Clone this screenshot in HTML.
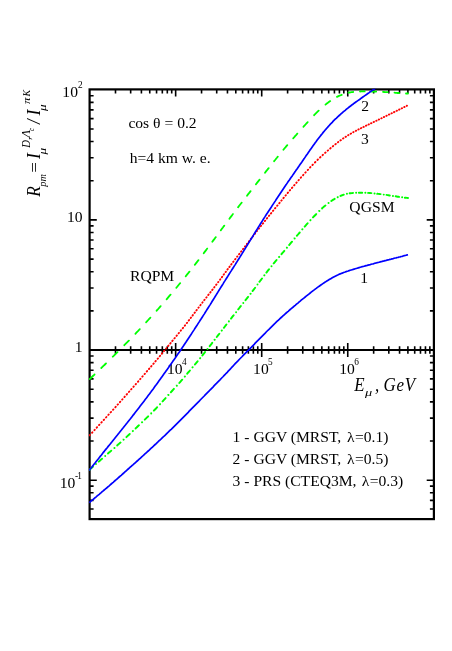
<!DOCTYPE html>
<html><head><meta charset="utf-8"><title>R_pm</title>
<style>html,body{margin:0;padding:0;background:#fff;}body{width:452px;height:651px;overflow:hidden;font-family:"Liberation Serif",serif;}svg{display:block;will-change:transform;}text{font-family:"Liberation Serif",serif;fill:#000;}</style>
</head><body>
<svg width="452" height="651" viewBox="0 0 452 651">
<rect x="0" y="0" width="452" height="651" fill="#fff"/>
<defs><clipPath id="cp"><rect x="89.00" y="88.70" width="344.90" height="430.40"/></clipPath></defs>
<g stroke="#000" fill="none">
<rect x="89.60" y="89.40" width="344.30" height="429.70" stroke-width="2.2"/>
<line x1="89.60" y1="350.05" x2="433.90" y2="350.05" stroke-width="2.1"/>
<path d="M89.60 219.90h7.20M433.90 219.90h-7.20M89.60 180.72h4.00M433.90 180.72h-4.00M89.60 157.80h4.00M433.90 157.80h-4.00M89.60 141.54h4.00M433.90 141.54h-4.00M89.60 128.93h4.00M433.90 128.93h-4.00M89.60 118.62h4.00M433.90 118.62h-4.00M89.60 109.91h4.00M433.90 109.91h-4.00M89.60 102.36h4.00M433.90 102.36h-4.00M89.60 95.71h4.00M433.90 95.71h-4.00M89.60 350.05h7.20M433.90 350.05h-7.20M89.60 310.87h4.00M433.90 310.87h-4.00M89.60 287.95h4.00M433.90 287.95h-4.00M89.60 271.69h4.00M433.90 271.69h-4.00M89.60 259.08h4.00M433.90 259.08h-4.00M89.60 248.77h4.00M433.90 248.77h-4.00M89.60 240.06h4.00M433.90 240.06h-4.00M89.60 232.51h4.00M433.90 232.51h-4.00M89.60 225.86h4.00M433.90 225.86h-4.00M89.60 480.20h7.20M433.90 480.20h-7.20M89.60 441.02h4.00M433.90 441.02h-4.00M89.60 418.10h4.00M433.90 418.10h-4.00M89.60 401.84h4.00M433.90 401.84h-4.00M89.60 389.23h4.00M433.90 389.23h-4.00M89.60 378.92h4.00M433.90 378.92h-4.00M89.60 370.21h4.00M433.90 370.21h-4.00M89.60 362.66h4.00M433.90 362.66h-4.00M89.60 356.01h4.00M433.90 356.01h-4.00M89.60 509.07h4.00M433.90 509.07h-4.00M89.60 500.36h4.00M433.90 500.36h-4.00M89.60 492.81h4.00M433.90 492.81h-4.00M89.60 486.16h4.00M433.90 486.16h-4.00M115.50 89.40v4.00M115.50 346.25v7.60M130.66 89.40v4.00M130.66 346.25v7.60M141.41 89.40v4.00M141.41 346.25v7.60M149.75 89.40v4.00M149.75 346.25v7.60M156.56 89.40v4.00M156.56 346.25v7.60M162.32 89.40v4.00M162.32 346.25v7.60M167.31 89.40v4.00M167.31 346.25v7.60M171.71 89.40v4.00M171.71 346.25v7.60M175.65 89.40v7.20M175.65 343.05v14.00M201.55 89.40v4.00M201.55 346.25v7.60M216.71 89.40v4.00M216.71 346.25v7.60M227.46 89.40v4.00M227.46 346.25v7.60M235.80 89.40v4.00M235.80 346.25v7.60M242.61 89.40v4.00M242.61 346.25v7.60M248.37 89.40v4.00M248.37 346.25v7.60M253.36 89.40v4.00M253.36 346.25v7.60M257.76 89.40v4.00M257.76 346.25v7.60M261.70 89.40v7.20M261.70 343.05v14.00M287.60 89.40v4.00M287.60 346.25v7.60M302.76 89.40v4.00M302.76 346.25v7.60M313.51 89.40v4.00M313.51 346.25v7.60M321.85 89.40v4.00M321.85 346.25v7.60M328.66 89.40v4.00M328.66 346.25v7.60M334.42 89.40v4.00M334.42 346.25v7.60M339.41 89.40v4.00M339.41 346.25v7.60M343.81 89.40v4.00M343.81 346.25v7.60M347.75 89.40v7.20M347.75 343.05v14.00M373.65 89.40v4.00M373.65 346.25v7.60M388.81 89.40v4.00M388.81 346.25v7.60M399.56 89.40v4.00M399.56 346.25v7.60M407.90 89.40v4.00M407.90 346.25v7.60M414.71 89.40v4.00M414.71 346.25v7.60M420.47 89.40v4.00M420.47 346.25v7.60M425.46 89.40v4.00M425.46 346.25v7.60M429.86 89.40v4.00M429.86 346.25v7.60" stroke-width="1.6"/>
</g>
<text x="82.60" y="97.10" font-size="15.6" text-anchor="end">10<tspan font-size="9.3" dy="-8.9">2</tspan></text>
<text x="82.60" y="222.10" font-size="15.6" text-anchor="end">10</text>
<text x="82.60" y="352.10" font-size="15.6" text-anchor="end">1</text>
<text x="81.30" y="487.70" font-size="15.6" text-anchor="end">10<tspan font-size="9.3" dy="-8.9" letter-spacing="-0.7" dx="-0.3">-1</tspan></text>
<text x="167.05" y="373.70" font-size="15.6" text-anchor="start">10<tspan font-size="9.3" dy="-8.9" dx="-0.6">4</tspan></text>
<text x="253.10" y="373.70" font-size="15.6" text-anchor="start">10<tspan font-size="9.3" dy="-8.9" dx="-0.6">5</tspan></text>
<text x="339.15" y="373.70" font-size="15.6" text-anchor="start">10<tspan font-size="9.3" dy="-8.9" dx="-0.6">6</tspan></text>
<text x="128.40" y="127.90" font-size="15.60" >cos θ = 0.2</text>
<text x="129.70" y="162.70" font-size="15.60" >h=4 km w. e.</text>
<text x="130.00" y="281.40" font-size="15.60" >RQPM</text>
<text x="349.30" y="211.60" font-size="15.60" letter-spacing="0.1">QGSM</text>
<text x="361.20" y="110.80" font-size="15.60" >2</text>
<text x="361.10" y="143.50" font-size="15.60" >3</text>
<text x="360.30" y="283.20" font-size="15.60" >1</text>
<text x="232.60" y="442.10" font-size="15.60" >1 - GGV (MRST, <tspan dx="2">λ</tspan><tspan dx="0.3">=0.1)</tspan></text>
<text x="232.60" y="463.90" font-size="15.60" >2 - GGV (MRST, <tspan dx="2">λ</tspan><tspan dx="0.3">=0.5)</tspan></text>
<text x="232.60" y="485.60" font-size="15.60" >3 - PRS (CTEQ3M, <tspan dx="1.3">λ</tspan><tspan dx="0.5">=0.3)</tspan></text>
<text transform="translate(354.30,390.90) scale(0.950,1)" font-size="17.80" font-style="italic" >E</text>
<text transform="translate(365.00,396.20) scale(1.300,1)" font-size="11.00" font-style="italic" >μ</text>
<text transform="translate(374.90,390.90) scale(0.950,1)" font-size="17.80" font-style="italic" >,</text>
<text transform="translate(383.60,390.90) scale(0.950,1)" font-size="17.80" font-style="italic" letter-spacing="0.7">GeV</text>
<g transform="rotate(-90)" font-style="italic">
<text transform="translate(-196.70,39.90) scale(0.890,1)" font-size="19.50">R</text>
<text transform="translate(-186.70,46.20) scale(0.917,1)" font-size="11.20">pm</text>
<text transform="translate(-174.00,39.70) scale(1.184,1)" font-size="16.00">=</text>
<text transform="translate(-159.00,39.90) scale(0.890,1)" font-size="19.50">I</text>
<text transform="translate(-154.40,46.10) scale(1.175,1)" font-size="11.20">μ</text>
<text transform="translate(-147.70,29.90) scale(0.890,1)" font-size="12.00">D,</text>
<text transform="translate(-137.70,29.90) scale(1.139,1)" font-size="11.60">Λ</text>
<text transform="translate(-131.10,33.50) scale(0.890,1)" font-size="7.50">c</text>
<text transform="translate(-123.90,39.60) scale(0.890,1)" font-size="18.72">/</text>
<text transform="translate(-115.40,39.90) scale(0.890,1)" font-size="19.50">I</text>
<text transform="translate(-110.90,46.10) scale(1.175,1)" font-size="11.20">μ</text>
<text transform="translate(-103.90,29.70) scale(1.157,1)" font-size="11.20">π</text>
<text transform="translate(-96.60,29.70) scale(0.890,1)" font-size="11.20">K</text>
</g>
<g fill="none" clip-path="url(#cp)">
<path d="M89.8 379.0L89.9 378.9L90.9 378.0L91.9 377.0L92.9 376.0L93.9 375.1L94.5 374.5M101.3 368.0L101.4 367.9L102.4 366.9L103.4 365.9L104.4 365.0L105.4 364.0L106.0 363.4M112.8 356.7L112.9 356.6L113.9 355.7L114.9 354.7L115.9 353.7L116.9 352.7L117.5 352.1M124.3 345.3L124.3 345.2L125.3 344.2L126.3 343.2L127.3 342.2L128.3 341.1L128.9 340.6M135.4 333.8L135.4 333.8L136.4 332.7L137.4 331.6L138.4 330.6L139.4 329.5L139.8 329.1M146.1 322.3L146.2 322.2L147.2 321.1L148.2 320.0L149.2 318.9L150.2 317.8L150.4 317.6M156.6 310.8L156.6 310.7L157.6 309.6L158.6 308.5L159.6 307.3L160.6 306.2L160.7 306.1M166.6 299.3L166.6 299.3L167.6 298.1L168.6 296.9L169.6 295.7L170.6 294.6L170.6 294.6M176.3 287.8L176.4 287.7L177.4 286.5L178.4 285.2L179.4 284.0L180.2 283.1M185.7 276.3L185.8 276.2L186.8 274.9L187.8 273.7L188.8 272.4L189.5 271.6M194.8 264.8L194.9 264.7L195.9 263.4L196.9 262.1L197.9 260.8L198.5 260.1M203.7 253.3L203.7 253.2L204.7 251.9L205.7 250.6L206.7 249.3L207.2 248.6M212.3 241.8L212.3 241.8L213.3 240.4L214.3 239.1L215.3 237.7L215.8 237.1M220.8 230.3L220.9 230.2L221.9 228.8L222.9 227.5L223.9 226.1L224.3 225.6M229.4 218.8L229.4 218.7L230.4 217.4L231.4 216.1L232.4 214.8L232.9 214.1M238.1 207.3L238.2 207.1L239.2 205.8L240.2 204.5L241.2 203.2L241.7 202.6M247.0 195.8L247.0 195.7L248.0 194.4L249.0 193.2L250.0 191.9L250.6 191.1M255.9 184.3L256.0 184.2L257.0 182.9L258.0 181.6L259.0 180.4L259.6 179.6M265.0 172.8L265.0 172.7L266.0 171.4L267.0 170.2L268.0 168.9L268.7 168.1M274.1 161.3L274.1 161.2L275.1 160.0L276.1 158.7L277.1 157.5L277.8 156.6M283.4 149.8L283.4 149.8L284.4 148.5L285.4 147.4L286.4 146.2L287.3 145.1M293.2 138.3L293.3 138.2L294.3 137.1L295.3 135.9L296.3 134.8L297.3 133.6L297.4 133.6M303.4 126.8L303.5 126.7L304.5 125.6L305.5 124.5L306.5 123.4L307.5 122.3L307.7 122.1M314.1 115.3L314.1 115.2L315.1 114.2L316.1 113.2L317.1 112.2L318.1 111.2L318.7 110.6M325.5 104.6L325.5 104.6L326.5 103.8L327.5 103.1L328.5 102.3L329.5 101.6L330.2 101.1M337.0 96.9L337.0 96.9L338.0 96.4L339.0 95.9L340.0 95.5L341.0 95.1L341.7 94.8M348.5 92.7L348.5 92.7L349.5 92.5L350.5 92.4L351.5 92.2L352.5 92.1L353.2 92.0M360.0 91.5L360.0 91.5L361.0 91.4L362.0 91.4L363.0 91.4L364.0 91.4L364.7 91.4M371.5 91.5L371.5 91.5L372.5 91.5L373.5 91.5L374.5 91.6L375.5 91.6L376.2 91.6M383.0 91.9L383.0 91.9L384.0 92.0L385.0 92.1L386.0 92.1L387.0 92.2L387.7 92.2M394.5 92.7L394.5 92.7L395.5 92.8L396.5 92.9L397.5 93.0L398.5 93.0L399.2 93.1M406.0 93.5L406.0 93.5L407.0 93.5L408.0 93.5L408.0 93.5" stroke="#00ff00" stroke-width="1.8" stroke-linecap="round"/>
<path d="M89.5 469.8L89.6 469.7L90.6 468.8L91.6 467.9L92.6 467.1L92.9 466.8M96.0 464.1L96.0 464.1L96.0 464.0M98.8 461.6L98.8 461.6L99.8 460.7L100.8 459.8L101.8 458.9L102.1 458.7M105.2 456.0L105.2 456.0L105.2 455.9M108.0 453.6L108.0 453.5L109.0 452.6L110.0 451.8L111.0 450.9L111.2 450.7M114.4 447.9L114.4 447.9L114.5 447.9M117.2 445.5L117.2 445.4L118.2 444.5L119.2 443.6L120.2 442.7L120.5 442.5M123.6 439.7L123.6 439.6L123.7 439.6M126.4 437.1L126.4 437.1L127.4 436.1L128.4 435.2L129.4 434.3L129.7 434.0M132.8 431.1L132.8 431.1L132.9 431.0M135.6 428.5L135.6 428.4L136.6 427.5L137.6 426.5L138.6 425.5L138.9 425.3M142.0 422.3L142.0 422.3L142.1 422.2M144.8 419.6L144.8 419.6L145.8 418.6L146.8 417.6L147.8 416.7L148.1 416.4M151.2 413.4L151.2 413.3L151.2 413.3M153.9 410.6L154.0 410.5L155.0 409.5L156.0 408.5L157.0 407.4L157.1 407.3M160.0 404.2L160.1 404.1L160.1 404.1M162.6 401.4L162.7 401.3L163.7 400.2L164.7 399.1L165.6 398.1M168.4 395.0L168.4 394.9L168.5 394.9M170.9 392.2L171.0 392.1L172.0 391.0L173.0 389.9L173.9 388.9M176.8 385.8L176.8 385.7L176.9 385.7M179.3 383.0L179.3 383.0L180.3 381.8L181.3 380.7L182.2 379.7M184.8 376.6L184.9 376.5M187.2 373.8L187.2 373.7L188.2 372.5L189.2 371.4L189.9 370.5M192.5 367.4L192.6 367.3L192.6 367.3M194.9 364.6L194.9 364.5L195.9 363.3L196.9 362.1L197.6 361.3M200.1 358.2L200.2 358.1L200.2 358.1M202.4 355.4L202.4 355.4L203.4 354.1L204.4 352.9L205.0 352.1M207.5 349.0L207.5 348.9L207.5 348.9M209.7 346.2L209.7 346.1L210.7 344.8L211.7 343.6L212.2 342.9M214.6 339.8L214.7 339.7L214.7 339.7M216.8 337.0L216.8 337.0L217.8 335.7L218.8 334.4L219.3 333.7M221.7 330.6L221.8 330.5L221.8 330.5M223.9 327.8L223.9 327.8L224.9 326.5L225.9 325.2L226.4 324.5M228.9 321.4L228.9 321.3L228.9 321.3M231.0 318.6L231.1 318.5L232.1 317.2L233.1 315.9L233.6 315.3M236.1 312.2L236.1 312.1L236.1 312.1M238.2 309.4L238.3 309.3L239.3 308.0L240.3 306.7L240.8 306.1M243.3 303.0L243.3 302.9L243.3 302.9M245.5 300.2L245.5 300.1L246.5 298.9L247.5 297.6L248.1 296.9M250.5 293.8L250.5 293.8L250.6 293.7M252.6 291.0L252.7 290.9L253.7 289.6L254.7 288.3L255.1 287.7M257.5 284.6L257.5 284.5L257.5 284.5M259.5 281.8L259.6 281.7L260.6 280.3L261.6 279.0L262.0 278.5M264.3 275.4L264.3 275.4L264.4 275.3M266.4 272.6L266.5 272.5L267.5 271.2L268.5 269.9L269.0 269.3M271.5 266.2L271.5 266.1L271.5 266.1M273.7 263.4L273.8 263.3L274.8 262.1L275.8 260.9L276.5 260.1M279.1 257.0L279.1 257.0L279.2 256.9M281.5 254.2L281.5 254.1L282.5 252.9L283.5 251.8L284.3 250.9M286.9 247.8L286.9 247.7L287.0 247.7M289.2 245.0L289.3 244.9L290.3 243.7L291.3 242.5L292.0 241.7M294.6 238.6L294.6 238.5L294.7 238.5M296.9 235.8L297.0 235.7L298.0 234.5L299.0 233.3L299.7 232.5M302.3 229.4L302.3 229.4L302.4 229.3M304.7 226.6L304.8 226.5L305.8 225.3L306.8 224.2L307.6 223.3M310.4 220.2L310.5 220.1L310.5 220.1M313.0 217.4L313.1 217.3L314.1 216.2L315.1 215.2L316.1 214.2L316.2 214.1M319.3 211.0L319.3 210.9L319.4 210.9M322.1 208.4L322.1 208.3L323.1 207.4L324.1 206.5L325.1 205.7L325.4 205.5M328.5 203.0L328.5 203.0L328.6 203.0M331.3 201.0L331.3 201.0L332.3 200.3L333.3 199.7L334.3 199.1L334.6 198.9M337.7 197.2L337.7 197.2L337.8 197.1M340.5 195.9L340.5 195.9L341.5 195.5L342.5 195.1L343.5 194.8L343.8 194.7M346.9 193.8L346.9 193.8L347.0 193.8M349.7 193.3L349.7 193.3L350.7 193.2L351.7 193.1L352.7 193.0L353.0 192.9M356.1 192.7L356.1 192.7L356.2 192.7M358.9 192.7L358.9 192.7L359.9 192.7L360.9 192.7L361.9 192.7L362.2 192.7M365.3 192.8L365.3 192.8L365.4 192.8M368.1 192.9L368.1 192.9L369.1 193.0L370.1 193.0L371.1 193.1L371.4 193.1M374.5 193.4L374.5 193.4L374.6 193.4M377.3 193.7L377.3 193.8L378.3 193.9L379.3 194.0L380.3 194.1L380.6 194.1M383.7 194.6L383.7 194.6L383.8 194.6M386.5 194.9L386.5 194.9L387.5 195.1L388.5 195.2L389.5 195.4L389.8 195.4M392.9 195.9L392.9 195.9L393.0 195.9M395.7 196.3L395.7 196.3L396.7 196.5L397.7 196.7L398.7 196.8L399.0 196.9M402.1 197.3L402.1 197.3L402.2 197.3M404.9 197.7L404.9 197.7L405.9 197.8L406.9 197.9L407.9 198.0L408.0 198.0" stroke="#00ff00" stroke-width="1.95" stroke-linecap="round"/>
<path d="M89.5 435.3L89.5 435.3L89.9 434.9M92.0 432.8L92.0 432.8L92.4 432.3M94.4 430.2L94.4 430.2L94.8 429.8M96.7 427.7L96.7 427.7L97.1 427.2M99.0 425.1L99.1 425.0L99.4 424.7M101.3 422.6L101.4 422.5L101.8 422.1M103.7 420.0L103.7 420.0L104.1 419.6M106.0 417.5L106.0 417.5L106.4 417.0M108.3 414.9L108.4 414.9L108.7 414.5M110.6 412.4L110.7 412.3L111.1 411.9M113.0 409.8L113.0 409.8L113.4 409.4M115.3 407.3L115.3 407.3L115.7 406.8M117.6 404.7L117.6 404.7L118.0 404.3M119.9 402.2L119.9 402.1L120.3 401.7M122.1 399.6L122.2 399.6L122.5 399.2M124.4 397.1L124.4 397.1L124.8 396.6M126.6 394.5L126.7 394.5L127.0 394.1M128.9 392.0L128.9 392.0L129.3 391.5M131.1 389.4L131.2 389.4L131.5 389.0M133.4 386.9L133.4 386.9L133.8 386.4M135.6 384.3L135.7 384.3L136.0 383.9M137.9 381.8L137.9 381.8L138.3 381.3M140.1 379.2L140.2 379.1L140.5 378.8M142.3 376.7L142.4 376.6L142.7 376.2M144.5 374.1L144.6 374.1L144.9 373.7M146.7 371.6L146.8 371.5L147.1 371.1M148.9 369.0L149.0 369.0L149.3 368.6M151.1 366.5L151.2 366.4L151.5 366.0M153.3 363.9L153.3 363.9L153.7 363.5M155.4 361.4L155.5 361.3L155.8 360.9M157.6 358.8L157.6 358.8L158.0 358.4M159.7 356.3L159.8 356.2L160.1 355.8M161.8 353.7L161.9 353.7L162.2 353.3M163.9 351.2L164.0 351.1L164.3 350.7M166.0 348.6L166.1 348.6L166.4 348.2M168.1 346.1L168.2 346.0L168.5 345.6M170.2 343.5L170.3 343.5L170.6 343.1M172.3 341.0L172.4 340.9L172.7 340.5M174.4 338.4L174.5 338.4L174.8 338.0M176.5 335.9L176.6 335.8L176.9 335.4M178.6 333.3L178.7 333.2L179.0 332.9M180.7 330.8L180.7 330.8L181.0 330.3M182.7 328.2L182.8 328.2L183.1 327.8M184.8 325.7L184.8 325.7L185.1 325.2M186.8 323.1L186.8 323.1L187.1 322.7M188.7 320.6L188.8 320.5L189.1 320.1M190.7 318.0L190.7 318.0L191.0 317.6M192.6 315.5L192.7 315.4L192.9 315.0M194.5 312.9L194.6 312.8L194.9 312.5M196.4 310.4L196.5 310.3L196.8 309.9M198.4 307.8L198.4 307.8L198.7 307.4M200.3 305.3L200.4 305.2L200.6 304.8M202.3 302.7L202.3 302.7L202.6 302.3M204.2 300.2L204.3 300.1L204.6 299.7M206.2 297.6L206.3 297.6L206.6 297.2M208.2 295.1L208.3 295.0L208.6 294.6M210.2 292.5L210.3 292.5L210.6 292.1M212.2 290.0L212.3 289.9L212.6 289.5M214.2 287.4L214.2 287.4L214.5 287.0M216.1 284.9L216.2 284.8L216.5 284.4M218.1 282.3L218.1 282.3L218.4 281.9M220.0 279.8L220.0 279.7L220.3 279.3M221.8 277.2L221.9 277.2L222.2 276.8M223.7 274.7L223.8 274.6L224.0 274.2M225.6 272.1L225.6 272.1L225.9 271.7M227.4 269.6L227.5 269.5L227.8 269.1M229.3 267.0L229.4 267.0L229.7 266.6M231.2 264.5L231.3 264.4L231.6 264.0M233.2 261.9L233.2 261.9L233.5 261.5M235.1 259.4L235.2 259.3L235.5 258.9M237.1 256.8L237.1 256.8L237.4 256.4M239.0 254.3L239.1 254.2L239.4 253.8M241.0 251.7L241.0 251.7L241.3 251.3M242.9 249.2L243.0 249.1L243.3 248.7M244.9 246.6L245.0 246.5L245.3 246.2M246.9 244.1L246.9 244.1L247.2 243.6M248.8 241.5L248.9 241.5L249.2 241.1M250.8 239.0L250.9 238.9L251.2 238.5M252.8 236.4L252.8 236.4L253.1 236.0M254.8 233.9L254.8 233.9L255.1 233.4M256.8 231.3L256.8 231.3L257.1 230.9M258.8 228.8L258.8 228.8L259.1 228.3M260.8 226.2L260.8 226.2L261.1 225.8M262.8 223.7L262.8 223.7L263.2 223.2M264.8 221.1L264.9 221.0L265.2 220.7M266.8 218.6L266.9 218.5L267.2 218.1M268.9 216.0L268.9 216.0L269.2 215.6M270.9 213.5L271.0 213.4L271.3 213.0M273.0 210.9L273.0 210.9L273.3 210.5M275.0 208.4L275.1 208.3L275.4 207.9M277.1 205.8L277.2 205.7L277.5 205.4M279.2 203.3L279.2 203.3L279.6 202.8M281.3 200.7L281.3 200.7L281.7 200.3M283.4 198.2L283.4 198.2L283.8 197.7M285.5 195.6L285.5 195.6L285.9 195.2M287.6 193.1L287.7 193.0L288.0 192.6M289.8 190.5L289.8 190.5L290.1 190.1M291.9 188.0L292.0 187.9L292.3 187.5M294.1 185.4L294.1 185.4L294.5 185.0M296.3 182.9L296.3 182.9L296.7 182.4M298.5 180.3L298.6 180.2L298.9 179.9M300.7 177.8L300.8 177.7L301.1 177.3M303.0 175.2L303.1 175.2L303.4 174.8M305.3 172.7L305.4 172.6L305.7 172.2M307.7 170.1L307.7 170.1L308.1 169.7M310.0 167.6L310.1 167.5L310.4 167.1M312.4 165.0L312.5 165.0L312.9 164.6M314.9 162.5L315.0 162.4L315.4 162.0M317.5 160.0L317.5 159.9L317.9 159.5M320.0 157.5L320.1 157.4L320.5 157.1M322.6 155.2L322.6 155.1L323.0 154.8M325.1 152.9L325.2 152.8L325.6 152.5M327.7 150.7L327.7 150.7L328.1 150.3M330.2 148.5L330.3 148.4L330.7 148.1M332.8 146.4L332.8 146.4L333.2 146.0M335.3 144.3L335.4 144.2L335.8 143.9M337.9 142.3L337.9 142.3L338.3 141.9M340.4 140.4L340.5 140.3L340.9 140.1M343.0 138.6L343.0 138.5L343.4 138.3M345.5 136.9L345.6 136.8L346.0 136.6M348.1 135.3L348.1 135.2L348.5 135.0M350.6 133.7L350.7 133.7L351.1 133.5M353.2 132.3L353.2 132.3L353.6 132.0M355.7 130.9L355.8 130.9L356.2 130.7M358.3 129.6L358.3 129.5L358.7 129.3M360.8 128.3L360.9 128.2L361.3 128.0M363.4 127.0L363.4 127.0L363.8 126.8M365.9 125.7L366.0 125.7L366.4 125.5M368.5 124.5L368.5 124.5L368.9 124.3M371.0 123.3L371.1 123.2L371.5 123.1M373.6 122.0L373.6 122.0L374.0 121.8M376.1 120.8L376.2 120.8L376.6 120.6M378.7 119.6L378.7 119.6L379.1 119.4M381.2 118.3L381.3 118.3L381.7 118.1M383.8 117.1L383.8 117.1L384.2 116.9M386.3 115.9L386.4 115.8L386.8 115.7M388.9 114.6L388.9 114.6L389.3 114.4M391.4 113.4L391.5 113.4L391.9 113.2M394.0 112.2L394.0 112.1L394.4 111.9M396.5 110.9L396.6 110.9L397.0 110.7M399.1 109.7L399.1 109.6L399.5 109.4M401.6 108.4L401.7 108.4L402.1 108.2M404.2 107.1L404.2 107.1L404.6 106.9M406.7 105.9L406.8 105.8L407.0 105.7" stroke="#ff0000" stroke-width="1.85" stroke-linecap="round"/>
<path d="M89.2 502.6L90.2 501.8L91.2 500.9L92.2 500.1L93.2 499.3L94.2 498.5L95.2 497.6L96.2 496.8L97.2 495.9L98.2 495.1L99.2 494.3L100.2 493.4L101.2 492.6L102.2 491.7L103.2 490.9L104.2 490.0L105.2 489.2L106.2 488.3L107.2 487.5L108.2 486.6L109.2 485.8L110.2 484.9L111.2 484.0L112.2 483.1L113.2 482.3L114.2 481.4L115.2 480.5L116.2 479.7L117.2 478.8L118.2 477.9L119.2 477.0L120.2 476.1L121.2 475.3L122.2 474.4L123.2 473.5L124.2 472.6L125.2 471.7L126.2 470.8L127.2 469.9L128.2 469.0L129.2 468.1L130.2 467.2L131.2 466.3L132.2 465.4L133.2 464.6L134.2 463.7L135.2 462.8L136.2 461.9L137.2 461.0L138.2 460.1L139.2 459.2L140.2 458.3L141.2 457.4L142.2 456.5L143.2 455.5L144.2 454.6L145.2 453.7L146.2 452.8L147.2 451.9L148.2 451.0L149.2 450.1L150.2 449.1L151.2 448.2L152.2 447.3L153.2 446.4L154.2 445.4L155.2 444.5L156.2 443.6L157.2 442.6L158.2 441.7L159.2 440.7L160.2 439.8L161.2 438.9L162.2 437.9L163.2 437.0L164.2 436.0L165.2 435.1L166.2 434.1L167.2 433.1L168.2 432.2L169.2 431.2L170.2 430.2L171.2 429.3L172.2 428.3L173.2 427.3L174.2 426.3L175.2 425.3L176.2 424.3L177.2 423.3L178.2 422.3L179.2 421.3L180.2 420.3L181.2 419.3L182.2 418.3L183.2 417.3L184.2 416.3L185.2 415.3L186.2 414.3L187.2 413.3L188.2 412.3L189.2 411.2L190.2 410.2L191.2 409.2L192.2 408.2L193.2 407.2L194.2 406.2L195.2 405.1L196.2 404.1L197.2 403.1L198.2 402.1L199.2 401.1L200.2 400.0L201.2 399.0L202.2 398.0L203.2 397.0L204.2 396.0L205.2 394.9L206.2 393.9L207.2 392.9L208.2 391.9L209.2 390.9L210.2 389.8L211.2 388.8L212.2 387.8L213.2 386.8L214.2 385.7L215.2 384.7L216.2 383.7L217.2 382.6L218.2 381.6L219.2 380.6L220.2 379.6L221.2 378.5L222.2 377.5L223.2 376.5L224.2 375.4L225.2 374.4L226.2 373.3L227.2 372.3L228.2 371.2L229.2 370.2L230.2 369.1L231.2 368.0L232.2 366.9L233.2 365.9L234.2 364.8L235.2 363.7L236.2 362.7L237.2 361.6L238.2 360.6L239.2 359.5L240.2 358.5L241.2 357.5L242.2 356.5L243.2 355.4L244.2 354.4L245.2 353.4L246.2 352.4L247.2 351.4L248.2 350.4L249.2 349.4L250.2 348.4L251.2 347.4L252.2 346.3L253.2 345.3L254.2 344.3L255.2 343.2L256.2 342.2L257.2 341.2L258.2 340.2L259.2 339.1L260.2 338.1L261.2 337.1L262.2 336.1L263.2 335.1L264.2 334.1L265.2 333.1L266.2 332.0L267.2 331.0L268.2 330.0L269.2 329.1L270.2 328.1L271.2 327.1L272.2 326.1L273.2 325.1L274.2 324.1L275.2 323.2L276.2 322.2L277.2 321.2L278.2 320.3L279.2 319.4L280.2 318.4L281.2 317.5L282.2 316.6L283.2 315.7L284.2 314.8L285.2 313.9L286.2 313.0L287.2 312.1L288.2 311.3L289.2 310.4L290.2 309.5L291.2 308.7L292.2 307.8L293.2 307.0L294.2 306.1L295.2 305.3L296.2 304.4L297.2 303.6L298.2 302.8L299.2 301.9L300.2 301.1L301.2 300.2L302.2 299.4L303.2 298.6L304.2 297.8L305.2 297.0L306.2 296.2L307.2 295.4L308.2 294.6L309.2 293.8L310.2 293.0L311.2 292.2L312.2 291.4L313.2 290.6L314.2 289.9L315.2 289.1L316.2 288.4L317.2 287.6L318.2 286.9L319.2 286.2L320.2 285.5L321.2 284.8L322.2 284.1L323.2 283.4L324.2 282.7L325.2 282.1L326.2 281.4L327.2 280.8L328.2 280.2L329.2 279.6L330.2 279.0L331.2 278.4L332.2 277.8L333.2 277.2L334.2 276.7L335.2 276.2L336.2 275.7L337.2 275.2L338.2 274.8L339.2 274.3L340.2 273.9L341.2 273.5L342.2 273.1L343.2 272.7L344.2 272.3L345.2 272.0L346.2 271.6L347.2 271.3L348.2 271.0L349.2 270.6L350.2 270.3L351.2 270.0L352.2 269.7L353.2 269.4L354.2 269.1L355.2 268.8L356.2 268.5L357.2 268.2L358.2 267.9L359.2 267.6L360.2 267.3L361.2 267.0L362.2 266.7L363.2 266.5L364.2 266.2L365.2 265.9L366.2 265.6L367.2 265.4L368.2 265.1L369.2 264.8L370.2 264.6L371.2 264.3L372.2 264.0L373.2 263.8L374.2 263.5L375.2 263.2L376.2 263.0L377.2 262.7L378.2 262.5L379.2 262.2L380.2 261.9L381.2 261.7L382.2 261.4L383.2 261.2L384.2 260.9L385.2 260.6L386.2 260.4L387.2 260.1L388.2 259.8L389.2 259.6L390.2 259.3L391.2 259.1L392.2 258.8L393.2 258.6L394.2 258.3L395.2 258.0L396.2 257.8L397.2 257.5L398.2 257.3L399.2 257.0L400.2 256.8L401.2 256.5L402.2 256.3L403.2 256.0L404.2 255.7L405.2 255.5L406.2 255.2L407.2 254.9L408.0 254.7" stroke="#0000ff" stroke-width="1.7"/>
<path d="M89.2 470.4L90.2 469.1L91.2 467.8L92.2 466.6L93.2 465.3L94.2 464.0L95.2 462.8L96.2 461.5L97.2 460.2L98.2 459.0L99.2 457.7L100.2 456.4L101.2 455.2L102.2 453.9L103.2 452.6L104.2 451.4L105.2 450.1L106.2 448.9L107.2 447.7L108.2 446.4L109.2 445.2L110.2 444.0L111.2 442.7L112.2 441.5L113.2 440.2L114.2 439.0L115.2 437.7L116.2 436.5L117.2 435.3L118.2 434.0L119.2 432.8L120.2 431.5L121.2 430.3L122.2 429.0L123.2 427.8L124.2 426.5L125.2 425.3L126.2 424.0L127.2 422.8L128.2 421.5L129.2 420.2L130.2 419.0L131.2 417.7L132.2 416.4L133.2 415.1L134.2 413.9L135.2 412.6L136.2 411.3L137.2 410.0L138.2 408.7L139.2 407.4L140.2 406.1L141.2 404.8L142.2 403.5L143.2 402.2L144.2 400.9L145.2 399.6L146.2 398.3L147.2 396.9L148.2 395.6L149.2 394.3L150.2 392.9L151.2 391.6L152.2 390.2L153.2 388.9L154.2 387.5L155.2 386.1L156.2 384.8L157.2 383.4L158.2 382.0L159.2 380.6L160.2 379.2L161.2 377.8L162.2 376.4L163.2 375.0L164.2 373.6L165.2 372.2L166.2 370.8L167.2 369.4L168.2 368.0L169.2 366.5L170.2 365.1L171.2 363.7L172.2 362.3L173.2 360.8L174.2 359.4L175.2 358.0L176.2 356.5L177.2 355.1L178.2 353.6L179.2 352.2L180.2 350.7L181.2 349.2L182.2 347.7L183.2 346.3L184.2 344.8L185.2 343.3L186.2 341.8L187.2 340.2L188.2 338.7L189.2 337.2L190.2 335.7L191.2 334.2L192.2 332.6L193.2 331.1L194.2 329.6L195.2 328.0L196.2 326.5L197.2 325.0L198.2 323.4L199.2 321.9L200.2 320.3L201.2 318.8L202.2 317.2L203.2 315.6L204.2 314.1L205.2 312.5L206.2 310.9L207.2 309.3L208.2 307.7L209.2 306.1L210.2 304.6L211.2 303.0L212.2 301.3L213.2 299.7L214.2 298.1L215.2 296.5L216.2 294.9L217.2 293.3L218.2 291.6L219.2 290.0L220.2 288.4L221.2 286.8L222.2 285.2L223.2 283.6L224.2 281.9L225.2 280.4L226.2 278.8L227.2 277.2L228.2 275.6L229.2 274.0L230.2 272.4L231.2 270.9L232.2 269.3L233.2 267.7L234.2 266.1L235.2 264.6L236.2 263.0L237.2 261.4L238.2 259.8L239.2 258.2L240.2 256.6L241.2 255.0L242.2 253.4L243.2 251.7L244.2 250.1L245.2 248.5L246.2 246.9L247.2 245.2L248.2 243.6L249.2 242.0L250.2 240.4L251.2 238.8L252.2 237.2L253.2 235.6L254.2 233.9L255.2 232.3L256.2 230.7L257.2 229.1L258.2 227.5L259.2 225.9L260.2 224.3L261.2 222.7L262.2 221.1L263.2 219.5L264.2 217.9L265.2 216.4L266.2 214.8L267.2 213.3L268.2 211.7L269.2 210.2L270.2 208.7L271.2 207.2L272.2 205.6L273.2 204.1L274.2 202.6L275.2 201.1L276.2 199.5L277.2 198.0L278.2 196.5L279.2 195.0L280.2 193.5L281.2 192.0L282.2 190.5L283.2 189.0L284.2 187.5L285.2 186.0L286.2 184.6L287.2 183.1L288.2 181.6L289.2 180.2L290.2 178.7L291.2 177.3L292.2 175.9L293.2 174.4L294.2 173.0L295.2 171.6L296.2 170.1L297.2 168.7L298.2 167.2L299.2 165.8L300.2 164.3L301.2 162.9L302.2 161.5L303.2 160.0L304.2 158.6L305.2 157.1L306.2 155.6L307.2 154.2L308.2 152.7L309.2 151.3L310.2 149.8L311.2 148.4L312.2 147.0L313.2 145.6L314.2 144.2L315.2 142.8L316.2 141.5L317.2 140.1L318.2 138.8L319.2 137.5L320.2 136.2L321.2 134.9L322.2 133.7L323.2 132.4L324.2 131.2L325.2 130.0L326.2 128.9L327.2 127.7L328.2 126.6L329.2 125.5L330.2 124.4L331.2 123.3L332.2 122.3L333.2 121.2L334.2 120.2L335.2 119.2L336.2 118.3L337.2 117.3L338.2 116.4L339.2 115.5L340.2 114.6L341.2 113.7L342.2 112.8L343.2 111.9L344.2 111.1L345.2 110.3L346.2 109.4L347.2 108.6L348.2 107.8L349.2 107.0L350.2 106.3L351.2 105.5L352.2 104.7L353.2 104.0L354.2 103.2L355.2 102.5L356.2 101.8L357.2 101.1L358.2 100.4L359.2 99.7L360.2 99.0L361.2 98.2L362.2 97.5L363.2 96.8L364.2 96.1L365.2 95.4L366.2 94.7L367.2 94.0L368.2 93.3L369.2 92.6L370.2 91.8L371.2 91.1L372.2 90.4L373.2 89.7L374.2 89.0L375.2 88.3L376.2 87.6L377.2 86.9L378.0 86.2" stroke="#0000ff" stroke-width="1.7"/>
</g>
</svg>
</body></html>
